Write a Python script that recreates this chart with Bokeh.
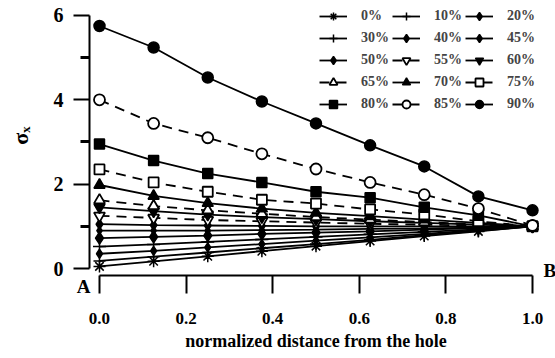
import math
from bokeh.plotting import figure
from bokeh.models import Legend, LegendItem, FixedTicker, Label, Range1d
from bokeh.embed import file_html
from bokeh.resources import INLINE

# normalized distance from the hole
dist = [0.0, 0.125, 0.25, 0.375, 0.5, 0.625, 0.75, 0.875, 1.0]

s0 = [0.05, 0.17, 0.29, 0.41, 0.53, 0.65, 0.77, 0.88, 1.0]
s10 = [0.18, 0.28, 0.38, 0.48, 0.58, 0.68, 0.79, 0.89, 1.0]
s20 = [0.35, 0.42, 0.50, 0.58, 0.66, 0.74, 0.82, 0.91, 1.0]
s30 = [0.52, 0.57, 0.63, 0.69, 0.75, 0.81, 0.87, 0.93, 1.0]
s40 = [0.72, 0.75, 0.78, 0.82, 0.85, 0.88, 0.92, 0.96, 1.0]
s45 = [0.90, 0.90, 0.90, 0.91, 0.92, 0.94, 0.95, 0.97, 1.0]
s50 = [1.05, 1.03, 1.02, 1.01, 1.0, 1.0, 1.0, 1.0, 1.0]
s55 = [1.25, 1.20, 1.15, 1.12, 1.09, 1.06, 1.04, 1.02, 1.0]
s60 = [1.45, 1.36, 1.28, 1.22, 1.17, 1.12, 1.08, 1.04, 1.0]
s65 = [1.62, 1.48, 1.38, 1.30, 1.22, 1.16, 1.10, 1.05, 1.0]
s70 = [1.98, 1.72, 1.55, 1.42, 1.32, 1.24, 1.16, 1.08, 1.0]
s75 = [2.35, 2.04, 1.82, 1.63, 1.54, 1.40, 1.28, 1.12, 1.0]
s80 = [2.95, 2.56, 2.25, 2.04, 1.82, 1.68, 1.45, 1.26, 1.0]
s85 = [4.00, 3.44, 3.10, 2.72, 2.36, 2.04, 1.75, 1.42, 1.02]
s90 = [5.75, 5.24, 4.53, 3.96, 3.44, 2.92, 2.42, 1.71, 1.38]

labels = ["0%", "10%", "20%", "30%", "40%", "45%", "50%", "55%", "60%",
          "65%", "70%", "75%", "80%", "85%", "90%"]
series = [s0, s10, s20, s30, s40, s45, s50, s55, s60, s65, s70, s75, s80, s85, s90]
markers = ["asterisk", "cross", "diamond", "cross", "diamond", "diamond", "diamond",
           "inverted_triangle", "inverted_triangle", "triangle", "triangle",
           "square", "square", "circle", "circle"]
sizes = [12, 12, 9, 13, 12, 8, 10, 11, 11, 11, 11, 10, 10, 11, 11]
hollow = [False, False, False, False, False, False, False, True, False, True,
          False, True, False, True, False]

FONT = "Liberation Serif"
X_AXIS_Y = -0.166   # level of the x axis line, just under sigma = 0
Y_AXIS_X = -0.0231  # position of the y axis line, just left of distance = 0

p = figure(width=555, height=358, output_backend="svg", toolbar_location=None,
           x_range=Range1d(-0.2286, 1.0531), y_range=Range1d(-2.134, 6.355),
           min_border_left=0, min_border_right=0, min_border_top=0,
           min_border_bottom=0)
p.grid.visible = False
p.outline_line_color = None
p.background_fill_color = "white"
p.border_fill_color = "white"

items = []
for lab, ys, mk, sz, ho in zip(labels, series, markers, sizes, hollow):
    dash = "10 7" if ho else "solid"
    lr = p.line(dist, ys, line_color="black", line_width=1.8, line_dash=dash)
    sr = p.scatter(dist, ys, marker=mk, size=sz, line_color="black",
                   line_width=1.8 if ho else 1.5,
                   fill_color="white" if ho else "black")
    items.append(LegendItem(label=lab, renderers=[lr, sr]))

# legend fills column by column: order items so rows read 0%,10%,20% ...
order = [0, 3, 6, 9, 12, 1, 4, 7, 10, 13, 2, 5, 8, 11, 14]
legend = Legend(items=[items[i] for i in order], ncols=3, location=(319, 244),
                label_text_font=FONT, label_text_font_style="bold",
                label_text_font_size="14px", glyph_width=28, glyph_height=20,
                label_height=20, label_standoff=14, spacing=2, padding=0,
                margin=0, border_line_color=None, background_fill_alpha=0,
                label_width=29)
p.add_layout(legend, "center")

# x axis
xa = p.xaxis[0]
xa.fixed_location = X_AXIS_Y
xa.ticker = FixedTicker(ticks=[0.0, 0.2, 0.4, 0.6, 0.8, 1.0])
xa.bounds = (0, 1)
xa.major_tick_out = 18
xa.major_tick_in = 0
xa.minor_tick_out = 0
xa.minor_tick_in = 0
xa.axis_line_width = 2
xa.axis_line_color = "black"
xa.major_tick_line_width = 2
xa.major_tick_line_color = "black"
xa.major_label_standoff = 19
xa.major_label_text_font = FONT
xa.major_label_text_font_style = "bold"
xa.major_label_text_font_size = "17px"
xa.major_label_text_color = "black"
xa.axis_label = "normalized distance from the hole"
xa.axis_label_text_font = FONT
xa.axis_label_text_font_style = "bold"
xa.axis_label_text_font_size = "18px"
xa.axis_label_text_color = "black"
xa.axis_label_standoff = 4
xa.major_label_overrides = {0.0: "0.0", 0.2: "0.2", 0.4: "0.4", 0.6: "0.6", 0.8: "0.8", 1.0: "1.0"}

# y axis
ya = p.yaxis[0]
ya.fixed_location = Y_AXIS_X
ya.ticker = FixedTicker(ticks=[0, 2, 4, 6], minor_ticks=[1, 3, 5])
ya.bounds = (0, 6)
ya.major_tick_out = 16
ya.major_tick_in = 0
ya.minor_tick_out = 9
ya.minor_tick_in = 0
ya.minor_tick_line_width = 3
ya.minor_tick_line_color = "black"
ya.major_tick_line_width = 2
ya.major_tick_line_color = "black"
ya.axis_line_width = 2
ya.axis_line_color = "black"
ya.major_label_standoff = 10
ya.major_label_text_font = FONT
ya.major_label_text_font_style = "bold"
ya.major_label_text_font_size = "20px"
ya.major_label_text_color = "black"

# y axis title, placed beside the upper half of the axis as in the original
p.add_layout(Label(x=-0.1824, y=3.15, text="σₓ", angle=math.pi / 2,
                   text_align="center", text_baseline="middle", text_font=FONT,
                   text_font_style="bold", text_font_size="22px", text_color="black"))

# end points A (hole edge) and B
p.add_layout(Label(x=0, y=X_AXIS_Y, text="A", text_align="right", text_baseline="top",
                   x_offset=-9, text_font=FONT, text_font_style="bold",
                   text_font_size="19px", text_color="black"))
p.add_layout(Label(x=1.0, y=-0.05, text="B", text_align="left", text_baseline="middle",
                   x_offset=11, text_font=FONT, text_font_style="bold",
                   text_font_size="19px", text_color="black"))

open("out.html", "w").write(file_html(p, INLINE))
